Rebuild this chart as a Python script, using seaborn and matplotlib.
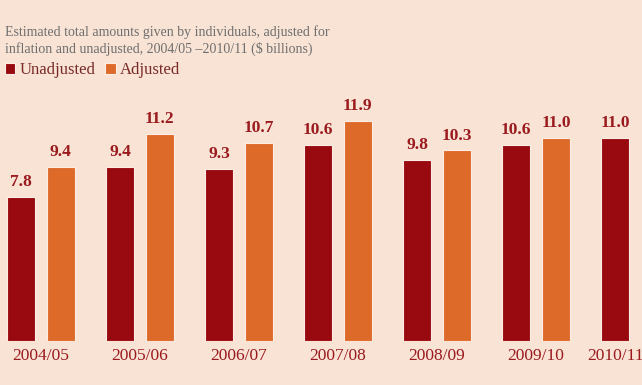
"""
Estimated total giving by individuals, adjusted vs unadjusted, 2004/05-2010/11.
Grouped bar chart rebuilt with seaborn.
"""

import matplotlib

matplotlib.use("Agg")
import matplotlib.pyplot as plt
import numpy as np
import pandas as pd
import seaborn as sns
from matplotlib.patches import Patch

YEARS = ["2004/05", "2005/06", "2006/07", "2007/08", "2008/09", "2009/10", "2010/11"]
UNADJUSTED = [7.8, 9.4, 9.3, 10.6, 9.8, 10.6, 11.0]
ADJUSTED = [9.4, 11.2, 10.7, 11.9, 10.3, 11.0, np.nan]
SERIES = ["Unadjusted", "Adjusted"]

TITLE = ("Estimated total amounts given by individuals, adjusted for\n"
         "inflation and unadjusted, 2004/05 \u20132010/11 ($ billions)")

BG = "#F8E3D5"
EDGE = "#FBEDE3"
PALETTE = {"Unadjusted": "#990A10", "Adjusted": "#DE6A2A"}
LABEL_RED = "#9A1A1E"
SERIF = ["Liberation Serif", "DejaVu Serif"]

sns.set_style("white")
plt.rcParams["font.family"] = SERIF

df = pd.DataFrame({
    "year": YEARS * 2,
    "series": [SERIES[0]] * len(YEARS) + [SERIES[1]] * len(YEARS),
    "value": UNADJUSTED + ADJUSTED,
}).dropna()

fig = plt.figure(figsize=(6.42, 3.85), dpi=100, facecolor=BG)
ax = fig.add_axes([0, 44 / 385, 1, 241 / 385])
ax.set_facecolor(BG)

sns.barplot(data=df, x="year", y="value", hue="series", order=YEARS,
            hue_order=SERIES, palette=PALETTE, width=0.8, gap=0.29,
            edgecolor=EDGE, linewidth=0.8, saturation=1, legend=False, ax=ax)

for cont in ax.containers:
    ax.bar_label(cont, fmt="%.1f", padding=5, color=LABEL_RED,
                 fontsize=12.5, fontweight="bold")

# last year has only one bar, so its label sits under that bar
ticks = list(range(len(YEARS)))
ticks[-1] = ticks[-1] - 0.2
ax.set_xticks(ticks)
ax.set_xticklabels(YEARS, color=LABEL_RED, fontsize=12.5)
ax.tick_params(axis="x", length=0, pad=5)
ax.set_yticks([])
ax.set_xlim(-0.414, 6.07)
ax.set_ylim(0, 13.03)
ax.set_xlabel("")
ax.set_ylabel("")
sns.despine(ax=ax, left=True, bottom=True)

handles = [Patch(facecolor=PALETTE[s], edgecolor=EDGE, linewidth=0.8) for s in SERIES]
fig.legend(handles, SERIES, loc="center left", bbox_to_anchor=(0.0, 1 - 70 / 385),
           ncol=2, frameon=False, fontsize=12, handlelength=0.62, handleheight=0.62,
           handletextpad=0.25, columnspacing=0.6, labelcolor="#7A2A26",
           borderaxespad=0, borderpad=0.3)

fig.text(0.008, 0.935, TITLE, ha="left", va="top", fontsize=10,
         color="#6E6E6E", linespacing=1.25)

fig.savefig("out.png", dpi=100, facecolor=BG)
